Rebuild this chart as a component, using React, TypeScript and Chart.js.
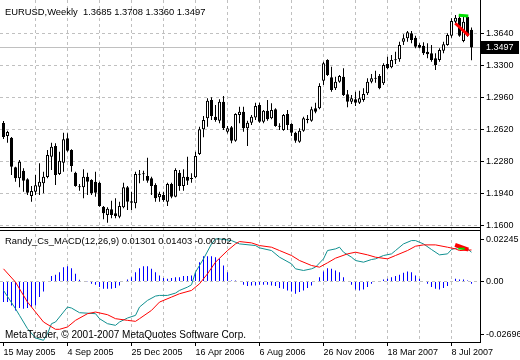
import React, { useEffect, useRef } from 'react';
import { Chart, registerables } from 'chart.js';
Chart.register(...registerables);

const FONT = '"Liberation Sans", Arial, sans-serif';

const symbolTitle = 'EURUSD,Weekly';
const indicatorTitle = 'Randy_Cs_MACD(12,26,9)';
const copyright = 'MetaTrader, \u00a9 2001-2007 MetaQuotes Software Corp.';

const xLabels = ['15 May 2005', '4 Sep 2005', '25 Dec 2005', '16 Apr 2006', '6 Aug 2006', '26 Nov 2006', '18 Mar 2007', '8 Jul 2007'];
const priceTicks = [1.16, 1.194, 1.228, 1.262, 1.296, 1.33, 1.364];
const macdAxisLabels = ['0.02245', '0.00', '-0.02696'];
const macdHeader = [0.01301, 0.01403, -0.00102];

const opens = [1.2694,1.2556,1.2538,1.2224,1.2107,1.2188,1.2096,1.1919,1.1964,1.2018,
1.2054,1.2120,1.2336,1.2450,1.2152,1.2273,1.2532,1.2407,1.2166,1.2020,
1.2011,1.2124,1.2089,1.2071,1.2060,1.1805,1.1717,1.1777,1.1735,1.1699,
1.1799,1.2011,1.1862,1.1841,1.2145,1.2152,1.2131,1.2107,1.2036,1.1905,
1.1929,1.1858,1.2046,1.1911,1.2166,1.2025,1.2124,1.2100,1.2117,1.2365,
1.2627,1.2744,1.2939,1.2761,1.2719,1.2921,1.2602,1.2649,1.2506,1.2779,
1.2814,1.2638,1.2698,1.2754,1.2886,1.2708,1.2825,1.2744,1.2840,1.2662,
1.2620,1.2790,1.2684,1.2591,1.2496,1.2613,1.2740,1.2719,1.2850,1.2851,
1.3144,1.3364,1.3180,1.3063,1.3133,1.3186,1.2999,1.2921,1.2946,1.2910,
1.2939,1.3010,1.3133,1.3169,1.3194,1.3116,1.3321,1.3286,1.3360,1.3371,
1.3558,1.3594,1.3647,1.3601,1.3523,1.3516,1.3452,1.3435,1.3382,1.3364,
1.3463,1.3523,1.3622,1.3771,1.3813,1.3566,1.3824,1.3685];

const highs = [1.2716,1.2613,1.2545,1.2230,1.2301,1.2213,1.2107,1.2025,1.2142,1.2266,
1.2177,1.2407,1.2485,1.2479,1.2389,1.2591,1.2585,1.2415,1.2177,1.2046,
1.2202,1.2166,1.2096,1.2177,1.2071,1.1812,1.1799,1.1869,1.1894,1.1858,
1.2060,1.2025,1.1964,1.2177,1.2195,1.2188,1.2326,1.2124,1.2054,1.1964,
1.1964,1.2060,1.2060,1.2213,1.2195,1.2202,1.2336,1.2160,1.2389,1.2655,
1.2769,1.2957,1.2967,1.2886,1.2946,1.2981,1.2662,1.2662,1.2797,1.2868,
1.2868,1.2719,1.2779,1.2910,1.2910,1.2832,1.2939,1.2904,1.2850,1.2691,
1.2790,1.2832,1.2691,1.2602,1.2638,1.2761,1.2779,1.2868,1.2910,1.3116,
1.3346,1.3371,1.3293,1.3186,1.3204,1.3276,1.3045,1.2992,1.3027,1.3038,
1.3063,1.3169,1.3215,1.3250,1.3215,1.3329,1.3399,1.3417,1.3452,1.3558,
1.3637,1.3672,1.3672,1.3622,1.3541,1.3552,1.3541,1.3523,1.3435,1.3488,
1.3558,1.3647,1.3807,1.3842,1.3842,1.3824,1.3842,1.3708];

const lows = [1.2524,1.2485,1.2142,1.2071,1.2011,1.1964,1.1929,1.1858,1.1929,1.1929,
1.1947,1.2107,1.2195,1.2036,1.2142,1.2177,1.2389,1.2177,1.2018,1.1975,
1.1894,1.1929,1.1929,1.1911,1.1805,1.1671,1.1635,1.1682,1.1682,1.1682,
1.1788,1.1770,1.1770,1.1788,1.2053,1.2081,1.2060,1.1929,1.1858,1.1858,
1.1858,1.1812,1.1894,1.1905,1.1975,1.1975,1.2036,1.2060,1.2107,1.2354,
1.2543,1.2655,1.2726,1.2708,1.2691,1.2620,1.2584,1.2479,1.2496,1.2691,
1.2602,1.2450,1.2673,1.2726,1.2698,1.2691,1.2719,1.2734,1.2655,1.2620,
1.2613,1.2620,1.2556,1.2485,1.2485,1.2602,1.2691,1.2708,1.2797,1.2840,
1.3098,1.3194,1.3027,1.3045,1.3122,1.2981,1.2861,1.2896,1.2875,1.2896,
1.2921,1.2992,1.3116,1.3122,1.3052,1.3098,1.3265,1.3276,1.3321,1.3346,
1.3523,1.3558,1.3541,1.3488,1.3488,1.3417,1.3382,1.3346,1.3258,1.3346,
1.3435,1.3516,1.3601,1.3754,1.3612,1.3552,1.3612,1.3360];

const closes = [1.2546,1.2598,1.2230,1.2107,1.2283,1.2081,1.1954,1.1972,1.2032,1.2071,
1.2124,1.2354,1.2443,1.2142,1.2294,1.2521,1.2400,1.2237,1.2025,1.2012,
1.2124,1.2071,1.1947,1.1954,1.1812,1.1735,1.1784,1.1717,1.1707,1.1812,
1.2011,1.1858,1.1848,1.2152,1.2152,1.2149,1.2081,1.2025,1.1894,1.1940,
1.1876,1.2046,1.1911,1.2195,1.2025,1.2124,1.2081,1.2107,1.2344,1.2627,
1.2726,1.2931,1.2769,1.2726,1.2921,1.2638,1.2638,1.2506,1.2790,1.2814,
1.2638,1.2698,1.2761,1.2875,1.2708,1.2825,1.2734,1.2832,1.2662,1.2655,
1.2779,1.2673,1.2591,1.2506,1.2613,1.2744,1.2726,1.2840,1.2814,1.3087,
1.3329,1.3204,1.3045,1.3133,1.3194,1.2992,1.2921,1.2957,1.2910,1.2957,
1.3003,1.3133,1.3169,1.3165,1.3063,1.3311,1.3276,1.3364,1.3371,1.3523,
1.3594,1.3658,1.3576,1.3505,1.3495,1.3435,1.3424,1.3364,1.3311,1.3470,
1.3531,1.3629,1.3778,1.3813,1.3622,1.3771,1.3622,1.3497];

const histogram = [-0.00918,-0.00918,-0.01066,-0.01288,-0.01184,-0.01214,-0.01184,-0.01140,-0.01066,-0.00696,
-0.00444,-0.00030,0.00237,0.00296,0.00414,0.00636,0.00681,0.00592,0.00340,0.00074,
0.00015,-0.00015,-0.00104,-0.00148,-0.00252,-0.00326,-0.00326,-0.00326,-0.00296,-0.00178,
-0.00030,0.00089,0.00192,0.00414,0.00592,0.00681,0.00681,0.00562,0.00414,0.00266,
0.00148,0.00118,0.00148,0.00192,0.00192,0.00237,0.00237,0.00266,0.00414,0.00858,
0.01125,0.01125,0.01125,0.01080,0.01006,0.00710,0.00414,0.00044,0.00044,0.00000,
-0.00148,-0.00207,-0.00178,-0.00178,-0.00148,-0.00148,-0.00148,-0.00178,-0.00207,-0.00296,
-0.00326,-0.00400,-0.00444,-0.00548,-0.00474,-0.00400,-0.00296,-0.00178,-0.00030,0.00192,
0.00444,0.00592,0.00562,0.00488,0.00414,0.00192,-0.00030,-0.00148,-0.00355,-0.00400,
-0.00355,-0.00252,-0.00104,-0.00030,-0.00030,0.00089,0.00118,0.00192,0.00237,0.00296,
0.00385,0.00444,0.00414,0.00266,0.00118,-0.00030,-0.00104,-0.00252,-0.00326,-0.00355,
-0.00296,-0.00207,0.00000,0.00118,0.00089,0.00089,0.00044,-0.00102];

const macdWeeks = [0,3,4,6,8,10,11,12,13,15,16,17,19,23,24,26,28,29,31,33,34,36,38,39,41,43,44,46,47,48,50,52,53,54,57,59,63,64,67,69,72,73,75,77,78,80,81,83,84,85,87,88,90,92,93,95,97,98,100,102,103,105,107,109,111,112,114,116,117];
const macdValues = [-0.00400,-0.01214,-0.01510,-0.02102,-0.02516,-0.02620,-0.02324,-0.01880,-0.01806,-0.01362,
-0.01140,-0.01184,-0.01391,-0.01436,-0.01658,-0.01880,-0.01954,-0.01806,-0.01628,-0.01510,
-0.01140,-0.00844,-0.00651,-0.00622,-0.00622,-0.00518,-0.00400,-0.00252,-0.00148,0.00414,
0.01006,0.01672,0.01894,0.01894,0.01820,0.01672,0.01598,0.01495,0.01376,0.01080,
0.00784,0.00562,0.00488,0.00562,0.00636,0.01006,0.01376,0.01450,0.01524,0.01302,
0.01080,0.00932,0.00858,0.00977,0.01006,0.01154,0.01228,0.01376,0.01672,0.01820,
0.01820,0.01672,0.01421,0.01184,0.01228,0.01421,0.01524,0.01450,0.01301];

const signalWeeks = [0,3,6,8,10,13,14,16,18,21,23,26,28,31,33,34,37,39,42,44,47,49,51,53,56,58,59,62,64,67,69,72,74,77,79,81,83,86,88,91,93,96,98,101,103,105,108,111,113,114,117];
const signalValues = [0.00562,-0.00030,-0.00918,-0.01362,-0.01806,-0.02131,-0.02131,-0.02028,-0.01732,-0.01436,
-0.01362,-0.01480,-0.01658,-0.01732,-0.01776,-0.01658,-0.01288,-0.00918,-0.00696,-0.00548,
-0.00400,-0.00104,0.00340,0.00858,0.01376,0.01672,0.01776,0.01717,0.01598,0.01524,
0.01376,0.01154,0.00932,0.00710,0.00636,0.00829,0.01036,0.01228,0.01302,0.01184,
0.01080,0.01006,0.01154,0.01376,0.01569,0.01628,0.01628,0.01524,0.01450,0.01376,
0.01403];

// marker strokes drawn by the indicator (weeks, values)
const upperGreenWeeks = [113.8, 116.2];
const upperGreenValues = [1.3840, 1.3832];
const upperRedWeeks = [112.95, 116.3];
const upperRedValues = [1.3754, 1.3622];
const lowerRedWeeks = [112.9, 116.2];
const lowerRedValues = [0.0163, 0.0142];
const lowerGreenWeeks = [113.7, 115.3];
const lowerGreenValues = [0.0146, 0.0146];

const pts = (xs: number[], ys: number[]) => xs.map((x, k) => ({ x, y: ys[k] }));

export default function App() {
  const ref = useRef<HTMLCanvasElement>(null);

  useEffect(() => {
    document.body.style.margin = '0';
    const canvas = ref.current!;
    const n = opens.length;
    const idx = opens.map((_, i) => i);
    const last = n - 1;

    const overlay = {
      id: 'mt4Overlay',
      beforeDatasetsDraw(chart: any) {
        const { ctx, chartArea, scales } = chart;
        const py = Math.round(scales.y.getPixelForValue(closes[last])) + 0.5;
        ctx.save();
        ctx.strokeStyle = '#c0c0c0';
        ctx.lineWidth = 1;
        ctx.beginPath();
        ctx.moveTo(chartArea.left, py);
        ctx.lineTo(chartArea.right, py);
        ctx.stroke();
        ctx.restore();
      },
      afterDraw(chart: any) {
        const { ctx, chartArea, scales } = chart;
        ctx.save();
        // panel frames
        ctx.strokeStyle = '#000';
        ctx.lineWidth = 1;
        const mainBottom = Math.round(scales.y.bottom) - 1.5;
        const subTop = Math.round(scales.y2.top) + 1.5;
        ctx.beginPath();
        ctx.moveTo(chartArea.left, mainBottom);
        ctx.lineTo(chartArea.right, mainBottom);
        ctx.moveTo(chartArea.left, subTop);
        ctx.lineTo(chartArea.right, subTop);
        ctx.stroke();
        // texts
        ctx.fillStyle = '#000';
        ctx.textAlign = 'left';
        ctx.textBaseline = 'alphabetic';
        ctx.font = `9.4px ${FONT}`;
        const ohlc = [opens[last], highs[last], lows[last], closes[last]].map(v => v.toFixed(4)).join(' ');
        ctx.fillText(`${symbolTitle}  ${ohlc}`, 5, 15);
        ctx.fillText(`${indicatorTitle} ${macdHeader.map(v => v.toFixed(5)).join(' ')}`, 5, 244);
        ctx.font = `10px ${FONT}`;
        ctx.fillText(copyright, 5, 338);
        // price label
        const py = Math.round(scales.y.getPixelForValue(closes[last]));
        ctx.fillStyle = '#000';
        ctx.fillRect(chartArea.right + 1, py - 6, 38, 13);
        ctx.fillStyle = '#fff';
        ctx.font = `9px ${FONT}`;
        ctx.textBaseline = 'middle';
        ctx.fillText(closes[last].toFixed(4), chartArea.right + 6, py + 0.5);
        ctx.restore();
      },
    };

    const chart = new Chart(canvas, {
      type: 'bar',
      data: {
        datasets: [
          { type: 'line', data: pts(upperGreenWeeks, upperGreenValues), yAxisID: 'y', borderColor: '#00e000', borderWidth: 3, pointRadius: 0 } as any,
          { type: 'line', data: pts(upperRedWeeks, upperRedValues), yAxisID: 'y', borderColor: '#ff0000', borderWidth: 3, pointRadius: 0 } as any,
          { type: 'line', data: pts(lowerGreenWeeks, lowerGreenValues), yAxisID: 'y2', borderColor: '#00e000', borderWidth: 2, pointRadius: 0 } as any,
          { type: 'line', data: pts(lowerRedWeeks, lowerRedValues), yAxisID: 'y2', borderColor: '#ff0000', borderWidth: 4, pointRadius: 0 } as any,
          {
            type: 'bar',
            data: idx.map(i => ({ x: i, y: [opens[i], closes[i]] })),
            yAxisID: 'y',
            backgroundColor: (c: any) => (closes[c.dataIndex] >= opens[c.dataIndex] ? '#ffffff' : '#000000'),
            borderColor: '#000',
            borderWidth: 1,
            borderSkipped: false,
            barThickness: 3,
            grouped: false,
            minBarLength: 1,
            inflateAmount: 0,
          } as any,
          {
            type: 'bar',
            data: idx.map(i => ({ x: i, y: [lows[i], highs[i]] })),
            yAxisID: 'y',
            backgroundColor: '#000',
            borderWidth: 0,
            barThickness: 1,
            grouped: false,
            inflateAmount: 0,
          } as any,
          { type: 'line', data: pts(signalWeeks, signalValues), yAxisID: 'y2', borderColor: '#ff0000', borderWidth: 1, pointRadius: 0, tension: 0 } as any,
          { type: 'line', data: pts(macdWeeks, macdValues), yAxisID: 'y2', borderColor: '#109090', borderWidth: 1, pointRadius: 0, tension: 0 } as any,
          {
            type: 'bar',
            data: idx.map(i => ({ x: i, y: histogram[i] })),
            yAxisID: 'y2',
            backgroundColor: '#0000ff',
            borderWidth: 0,
            barThickness: 1,
            grouped: false,
            inflateAmount: 0,
          } as any,
        ],
      },
      options: {
        responsive: false,
        animation: false,
        devicePixelRatio: 1,
        events: [],
        layout: { padding: 0 },
        plugins: { legend: { display: false }, tooltip: { enabled: false }, title: { display: false } },
        scales: {
          x: {
            type: 'linear',
            position: 'bottom',
            min: -0.875,
            max: 119.125,
            offset: false,
            bounds: 'data',
            afterBuildTicks: (s: any) => {
              const t = [];
              for (let v = 0; v < n; v += 8) t.push({ value: v });
              s.ticks = t;
            },
            afterFit: (s: any) => {
              s.height = 18;
              s.paddingLeft = 0;
              s.paddingRight = 0;
            },
            ticks: {
              autoSkip: false,
              maxRotation: 0,
              minRotation: 0,
              align: 'start',
              padding: 1,
              color: '#000',
              font: { family: FONT, size: 9 },
              callback: (v: any) => (Number(v) % 16 === 0 ? xLabels[Number(v) / 16] ?? '' : ''),
            },
            grid: {
              offset: false,
              color: (c: any) => (c.tick && c.tick.value === 0 ? 'rgba(0,0,0,0)' : '#c0c0c0'),
              tickColor: (c: any) => (c.tick && c.tick.value % 16 === 0 ? '#000' : 'rgba(0,0,0,0)'),
              tickLength: 4,
              lineWidth: 1,
            },
            border: { display: true, color: '#000', dash: [3, 3] },
          },
          y: {
            type: 'linear',
            position: 'right',
            stack: 'panes',
            stackWeight: 229,
            min: 1.15681,
            max: 1.40012,
            bounds: 'data',
            beginAtZero: false,
            afterBuildTicks: (s: any) => {
              s.ticks = priceTicks.map(v => ({ value: v }));
            },
            afterFit: (s: any) => {
              s.width = 40;
              s.paddingTop = 0;
              s.paddingBottom = 0;
            },
            ticks: {
              padding: 2,
              color: '#000',
              font: { family: FONT, size: 9 },
              callback: (v: any) => Number(v).toFixed(4),
            },
            grid: { color: '#c0c0c0', tickColor: '#000', tickLength: 4, lineWidth: 1 },
            border: { display: true, color: '#000', dash: [3, 3] },
          },
          y2: {
            type: 'linear',
            position: 'right',
            stack: 'panes',
            stackWeight: 113,
            min: -0.02696,
            max: 0.02335,
            bounds: 'data',
            beginAtZero: false,
            afterBuildTicks: (s: any) => {
              const span = s.max - s.min;
              s.ticks = [{ value: s.max - span * 0.089 }, { value: 0 }, { value: s.min + span * 0.062 }];
            },
            afterFit: (s: any) => {
              s.width = 40;
              s.paddingTop = 0;
              s.paddingBottom = 0;
            },
            ticks: {
              padding: 2,
              color: '#000',
              font: { family: FONT, size: 9 },
              callback: (_v: any, i: number) => macdAxisLabels[i],
            },
            grid: {
              color: (c: any) => (c.tick && c.tick.value === 0 ? '#c0c0c0' : 'rgba(0,0,0,0)'),
              tickColor: '#000',
              tickLength: 4,
              lineWidth: 1,
            },
            border: { display: true, color: '#000', dash: [3, 3] },
          },
        },
      } as any,
      plugins: [overlay],
    });

    return () => chart.destroy();
  }, []);

  return <canvas ref={ref} width={520} height={360} style={{ display: 'block', width: 520, height: 360 }} />;
}
